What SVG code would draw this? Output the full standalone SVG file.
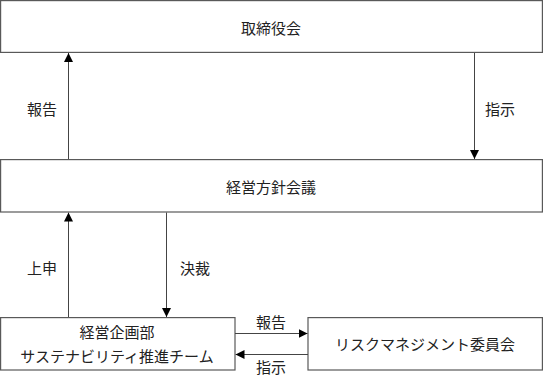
<svg xmlns="http://www.w3.org/2000/svg" width="543" height="376" viewBox="0 0 543 376">
<defs>
<marker id="ah" viewBox="0 0 10 10" refX="10" refY="5" markerWidth="9" markerHeight="9" markerUnits="userSpaceOnUse" orient="auto">
<path d="M0,0 L10,5 L0,10 Z" fill="#000"/>
</marker>
</defs>
<style>
.box{fill:#fff;stroke:#595959;stroke-width:1.2}
.t{font-family:"Noto Sans CJK JP","Noto Sans CJK SC",sans-serif;font-size:15px;fill:#222;text-anchor:middle;dominant-baseline:central}
.c{stroke:#444;stroke-width:1;fill:none;marker-end:url(#ah)}
</style>
<rect width="543" height="376" fill="#fff"/>
<g id="torishimariyakukai">
<rect class="box" x="0.6" y="0.6" width="541.8" height="51.8"/>
<text class="t" x="271" y="27">取締役会</text>
</g>
<g id="keiei-houshin-kaigi">
<rect class="box" x="0.6" y="159.6" width="541.8" height="52.4"/>
<text class="t" x="271" y="186">経営方針会議</text>
</g>
<g id="keiei-kikakubu">
<rect class="box" x="0.6" y="317.6" width="234.4" height="52.4"/>
<text class="t" x="117" y="331.5">経営企画部</text>
<text class="t" x="117" y="355">サステナビリティ推進チーム</text>
</g>
<g id="risk-iinkai">
<rect class="box" x="308" y="317.6" width="234.4" height="52.4"/>
<text class="t" x="425" y="343.5">リスクマネジメント委員会</text>
</g>
<g id="connectors">
<line class="c" x1="68.5" y1="159" x2="68.5" y2="53"/>
<line class="c" x1="474.5" y1="53" x2="474.5" y2="159"/>
<line class="c" x1="68.5" y1="317" x2="68.5" y2="212.5"/>
<line class="c" x1="166.5" y1="212.5" x2="166.5" y2="317"/>
<line class="c" x1="235" y1="333.5" x2="307.5" y2="333.5"/>
<line class="c" x1="308" y1="354.5" x2="235.5" y2="354.5"/>
<text class="t" x="42" y="108">報告</text>
<text class="t" x="500" y="108">指示</text>
<text class="t" x="42" y="267">上申</text>
<text class="t" x="195" y="267">決裁</text>
<text class="t" x="271" y="321">報告</text>
<text class="t" x="271" y="366">指示</text>
</g>
</svg>
